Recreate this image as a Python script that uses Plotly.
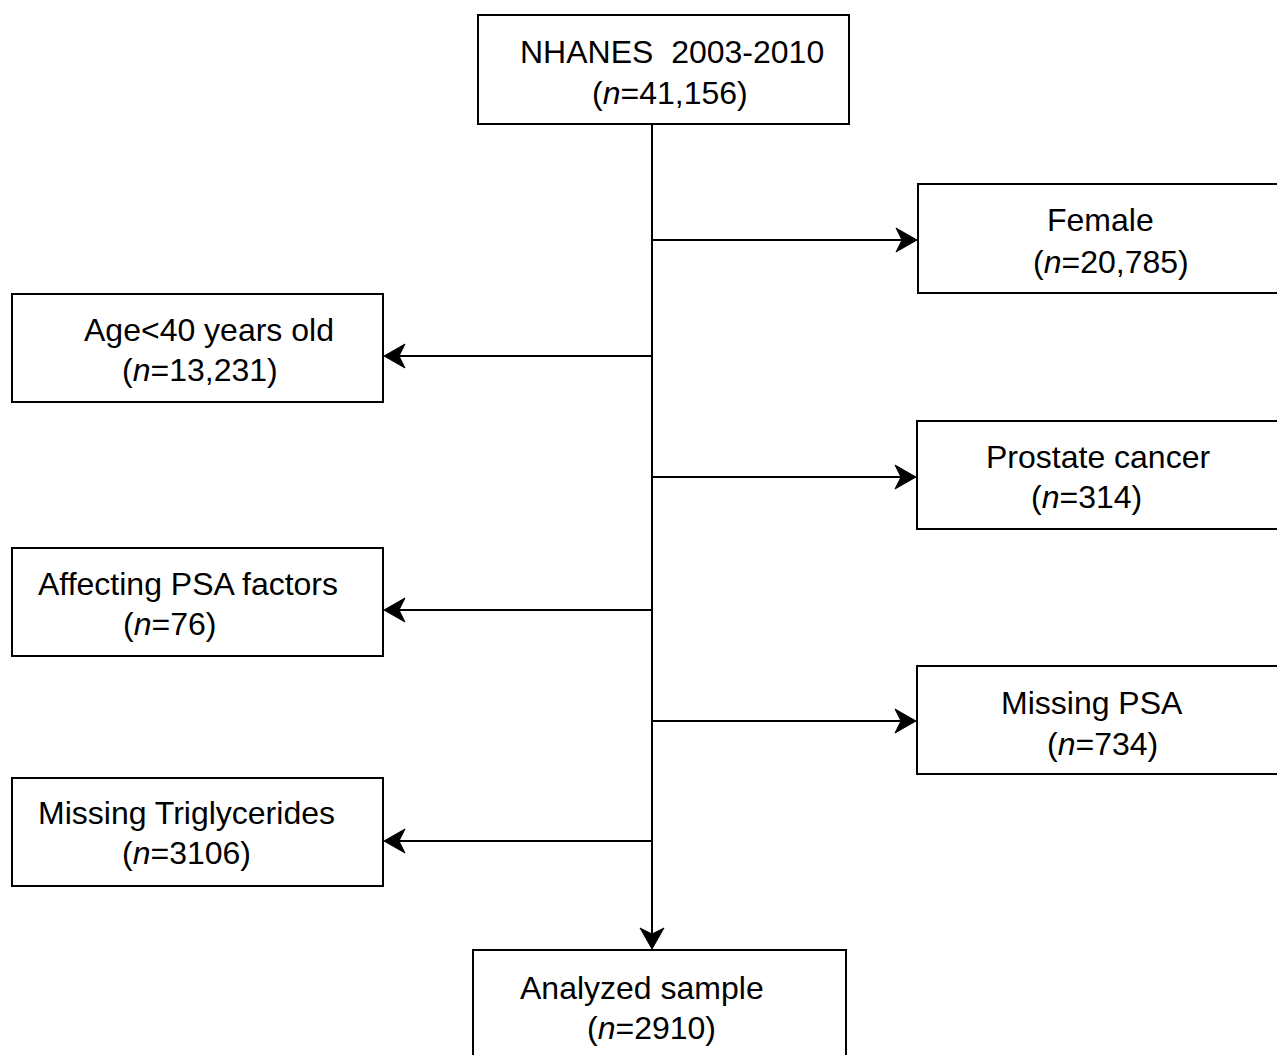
import plotly.graph_objects as go

# ---- data ----
stage_labels = ["NHANES  2003-2010", "Female", "Age<40 years old", "Prostate cancer",
                "Affecting PSA factors", "Missing PSA", "Missing Triglycerides", "Analyzed sample"]
stage_counts = ["41,156", "20,785", "13,231", "314", "76", "734", "3106", "2910"]

# ---- layout (pixel positions of boxes: x0, x1, y0, y1) ----
PAGE_W, PAGE_H = 1277, 1055
boxes = [
    (478, 849, 15, 124),
    (918, 1320, 184, 293),
    (12, 383, 294, 402),
    (917, 1320, 421, 529),
    (12, 383, 548, 656),
    (917, 1320, 666, 774),
    (12, 383, 778, 886),
    (473, 846, 950, 1100),
]
# text centers: (x line1, y line1, x line2, y line2)
text_pos = [
    (672, 52, 670, 93),
    (1100, 220, 1111, 262),
    (209, 330, 200, 370),
    (1098, 457, 1086, 497),
    (188, 584, 169, 624),
    (1092, 703, 1102, 744),
    (186, 813, 186, 853),
    (642, 988, 651, 1028),
]
trunk_x = 652
branch_y = [240, 356, 477, 610, 721, 841]
HEAD_L, HEAD_W, NOTCH = 21, 12, 6

fig = go.Figure()
shapes = []
annotations = []
font = dict(family="Liberation Sans, Arial, sans-serif", size=32, color="black")
line = dict(color="black", width=2)

for (x0, x1, y0, y1) in boxes:
    if x1 > PAGE_W:      # box runs off the right edge: no right border
        path = f"M{x1},{y0} L{x0},{y0} L{x0},{y1} L{x1},{y1}"
    elif y1 > PAGE_H:    # box runs off the bottom edge: no bottom border
        path = f"M{x0},{y1} L{x0},{y0} L{x1},{y0} L{x1},{y1}"
    else:
        path = f"M{x0},{y0} L{x1},{y0} L{x1},{y1} L{x0},{y1} Z"
    shapes.append(dict(type="path", xref="x", yref="y", path=path, line=line))

for lab, n, (tx1, ty1, tx2, ty2) in zip(stage_labels, stage_counts, text_pos):
    annotations.append(dict(x=tx1, y=ty1, xref="x", yref="y", text=lab, showarrow=False,
                            font=font, xanchor="center", yanchor="middle"))
    annotations.append(dict(x=tx2, y=ty2, xref="x", yref="y", text=f"(<i>n</i>={n})",
                            showarrow=False, font=font, xanchor="center", yanchor="middle"))

# trunk + downward arrowhead
tip_y = boxes[-1][2] - 1
shapes.append(dict(type="line", xref="x", yref="y", x0=trunk_x, x1=trunk_x,
                   y0=boxes[0][3], y1=tip_y - NOTCH, line=line))
shapes.append(dict(type="path", xref="x", yref="y",
                   path=(f"M{trunk_x},{tip_y} L{trunk_x - HEAD_W},{tip_y - HEAD_L} "
                         f"L{trunk_x},{tip_y - HEAD_L + NOTCH} L{trunk_x + HEAD_W},{tip_y - HEAD_L} Z"),
                   fillcolor="black", line=dict(color="black", width=1)))

# branches
for i, by in enumerate(branch_y):
    bx0, bx1, _, _ = boxes[i + 1]
    if bx0 > trunk_x:
        tip = bx0 - 1
        d = 1
    else:
        tip = bx1 + 1
        d = -1
    back = tip - d * HEAD_L
    shapes.append(dict(type="line", xref="x", yref="y", x0=trunk_x, x1=tip - d * NOTCH,
                       y0=by, y1=by, line=line))
    shapes.append(dict(type="path", xref="x", yref="y",
                       path=(f"M{tip},{by} L{back},{by - HEAD_W} "
                             f"L{back + d * NOTCH},{by} L{back},{by + HEAD_W} Z"),
                       fillcolor="black", line=dict(color="black", width=1)))

fig.update_layout(
    width=PAGE_W, height=PAGE_H,
    margin=dict(l=0, r=0, t=0, b=0),
    paper_bgcolor="white", plot_bgcolor="white",
    xaxis=dict(range=[0, PAGE_W], visible=False, fixedrange=True),
    yaxis=dict(range=[PAGE_H, 0], visible=False, fixedrange=True),
    shapes=shapes, annotations=annotations, showlegend=False,
)
fig.write_html(
    "out.html",
    config={"displayModeBar": False},
    post_script="document.body.style.margin='0';document.body.style.overflow='hidden';",
)
